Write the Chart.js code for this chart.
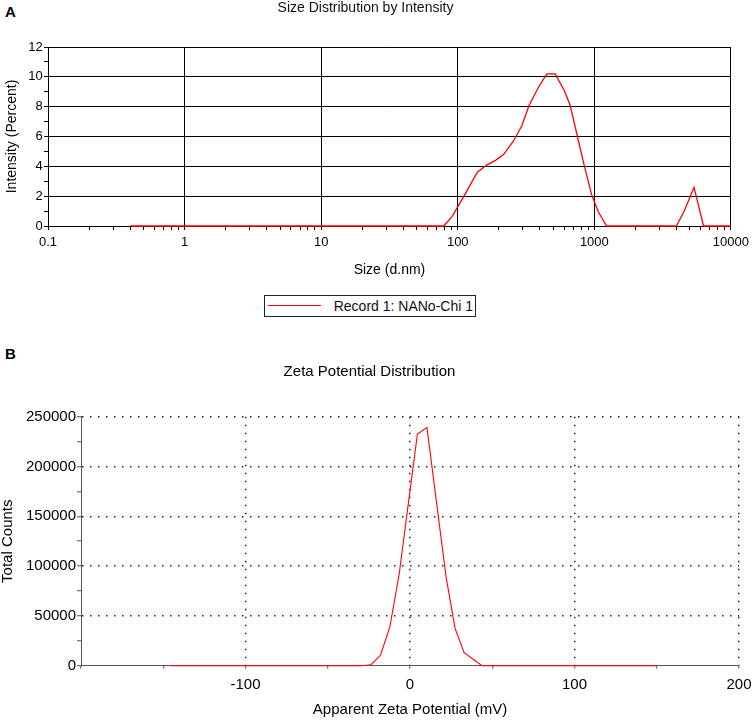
<!DOCTYPE html>
<html>
<head>
<meta charset="utf-8">
<title>Size and zeta potential distribution</title>
<script src="https://cdn.jsdelivr.net/npm/chart.js@4.4.1/dist/chart.umd.min.js"></script>
<style>
  body { margin: 0; background: #fff; font-family: 'Liberation Sans', Arial, sans-serif; }
  #wrap { position: relative; width: 753px; height: 720px; overflow: hidden; }
  canvas { position: absolute; left: 0; }
  #chartA { top: 0; }
  #chartB { top: 335px; }
  .panel { position: absolute; left: 5px; font-weight: bold; font-size: 15px; line-height: 15px; color: #000; }
  #legendA { position: absolute; left: 264px; top: 295px; width: 210px; height: 20px; border: 1px solid #222; }
  #legendA .swatch { position: absolute; left: 3px; top: 9px; width: 53px; border-top: 1.5px solid #ff0000; }
  #legendA .text { position: absolute; right: 2px; top: 1px; font-size: 14px; line-height: 18px; color: #111; }
</style>
</head>
<body>
<div id="wrap">
  <div class="panel" style="top: 4px;">A</div>
  <div class="panel" style="top: 346px;">B</div>
  <canvas id="chartA" width="753" height="290"></canvas>
  <div id="legendA"></div>
  <canvas id="chartB" width="753" height="385"></canvas>
</div>
<script>
// --- panel A: size distribution by intensity ---
const sizesA = [0.4, 79, 91, 111, 139, 164, 189, 217, 256, 294, 333, 390, 449, 516, 601, 665, 743, 841, 955, 1069, 1230, 3990, 4550, 5370, 6300, 10000];
const intensityA = [0, 0, 0.65, 2.0, 3.6, 4.1, 4.4, 4.8, 5.7, 6.7, 8.1, 9.3, 10.2, 10.2, 9.1, 8.1, 6.2, 4.1, 2.1, 0.95, 0, 0, 1.0, 2.6, 0, 0];
const decadesA = [0.1, 1, 10, 100, 1000, 10000];
const decadeLabelsA = ['0.1', '1', '10', '100', '1000', '10000'];
const minorStepsA = [2, 3, 4, 5, 6, 7, 8, 9];
const yTicksA = [0, 1, 2, 3, 4, 5, 6, 7, 8, 9, 10, 11, 12];
const yLabelsA = ['0', '', '2', '', '4', '', '6', '', '8', '', '10', '', '12'];

// --- panel B: zeta potential distribution ---
const zetaB = [-146, -29.4, -23.7, -17.9, -12.2, -6.5, -1.0, 4.5, 10.3, 16.2, 21.9, 27.4, 32.9, 43.8, 150];
const countsB = [0, 0, 1000, 10700, 39200, 92800, 163000, 232600, 239300, 163000, 89400, 37500, 13000, 0, 0];
const xTicksB = [-200, -150, -100, -50, 0, 50, 100, 150, 200];
const xLabelsB = ['', '', '-100', '', '0', '', '100', '', '200'];
const yTicksB = [0, 25000, 50000, 75000, 100000, 125000, 150000, 175000, 200000, 225000, 250000];
const yLabelsB = ['0', '', '50000', '', '100000', '', '150000', '', '200000', '', '250000'];

Chart.defaults.font.family = "'Liberation Sans', Arial, sans-serif";
Chart.defaults.color = '#000';

const clear = 'rgba(0,0,0,0)';

// every tick of the log axis: decades plus 2..9 in between
const xTicksA = [];
decadesA.forEach((d, i) => {
    xTicksA.push(d);
    if (i < decadesA.length - 1) minorStepsA.forEach(m => xTicksA.push(d * m));
});

const chartA = new Chart(document.getElementById('chartA'), {
    type: 'line',
    data: {
        datasets: [{
            label: 'Record 1: NANo-Chi 1',
            data: sizesA.map((x, i) => ({ x: x, y: intensityA[i] })),
            borderColor: '#ff0000',
            borderWidth: 1.3,
            pointRadius: 0,
            tension: 0,
            clip: 5
        }]
    },
    options: {
        responsive: false,
        animation: false,
        layout: { padding: { left: 0, right: 22, top: 0, bottom: 0 } },
        plugins: {
            legend: { display: false },
            tooltip: { enabled: false },
            title: {
                display: true,
                text: 'Size Distribution by Intensity',
                color: '#111',
                font: { size: 14, weight: 'normal' },
                padding: { top: 0, bottom: 30.2 }
            }
        },
        scales: {
            x: {
                type: 'logarithmic',
                min: 0.1,
                max: 10000,
                afterBuildTicks: s => { s.ticks = xTicksA.map(v => ({ value: v })); },
                afterFit: s => { s.height = 64; },
                grid: {
                    color: c => (c.tick && decadesA.includes(c.tick.value)) ? '#000' : clear,
                    tickColor: '#000',
                    tickLength: 4
                },
                border: { color: '#000' },
                ticks: {
                    autoSkip: false,
                    maxRotation: 0,
                    padding: 4,
                    font: { size: 13, lineHeight: 1.3 },
                    callback: v => {
                        const i = decadesA.indexOf(v);
                        return i >= 0 ? decadeLabelsA[i] : '';
                    }
                },
                title: {
                    display: true,
                    text: 'Size (d.nm)',
                    font: { size: 14 },
                    padding: { top: 0, bottom: 11.6 }
                }
            },
            y: {
                min: 0,
                max: 12,
                afterBuildTicks: s => { s.ticks = yTicksA.map(v => ({ value: v })); },
                afterFit: s => { s.width = 48; },
                grid: {
                    color: c => (c.tick && c.tick.value % 2 === 0) ? '#000' : clear,
                    tickColor: '#000',
                    tickLength: 4
                },
                border: { color: '#000' },
                ticks: {
                    autoSkip: false,
                    padding: 1.3,
                    font: { size: 13 },
                    callback: (v, i) => yLabelsA[i]
                },
                title: {
                    display: true,
                    text: 'Intensity (Percent)',
                    font: { size: 14 },
                    padding: { top: 3.6, bottom: 0 }
                }
            }
        }
    }
});

// boxed legend under panel A
const legendA = document.getElementById('legendA');
legendA.innerHTML = '<span class="swatch"></span><span class="text">' + chartA.data.datasets[0].label + '</span>';

new Chart(document.getElementById('chartB'), {
    type: 'line',
    data: {
        datasets: [{
            label: 'Total Counts',
            data: zetaB.map((x, i) => ({ x: x, y: countsB[i] })),
            borderColor: '#ff0000',
            borderWidth: 1.1,
            pointRadius: 0,
            tension: 0,
            clip: 5
        }]
    },
    options: {
        responsive: false,
        animation: false,
        layout: { padding: { left: 0, right: 14, top: 0, bottom: 0 } },
        plugins: {
            legend: { display: false },
            tooltip: { enabled: false },
            title: {
                display: true,
                text: 'Zeta Potential Distribution',
                color: '#000',
                font: { size: 15, weight: 'normal' },
                padding: { top: 27.7, bottom: 36 }
            }
        },
        scales: {
            x: {
                type: 'linear',
                min: -200,
                max: 200,
                afterBuildTicks: s => { s.ticks = xTicksB.map(v => ({ value: v })); },
                afterFit: s => { s.height = 54.3; },
                grid: {
                    color: c => (c.tick && c.tick.value % 100 === 0 && c.tick.value !== -200) ? '#222' : clear,
                    lineWidth: 1.5,
                    tickColor: '#555',
                    tickWidth: 1,
                    tickLength: 3
                },
                border: { color: '#555', dash: [1.5, 6.5] },
                ticks: {
                    autoSkip: false,
                    maxRotation: 0,
                    padding: 1.2,
                    font: { size: 15, lineHeight: 2 },
                    callback: (v, i) => xLabelsB[i]
                },
                title: {
                    display: true,
                    text: 'Apparent Zeta Potential (mV)',
                    font: { size: 15 },
                    padding: { top: 0, bottom: 1 }
                }
            },
            y: {
                min: 0,
                max: 250000,
                afterBuildTicks: s => { s.ticks = yTicksB.map(v => ({ value: v })); },
                afterFit: s => { s.width = 81; },
                grid: {
                    color: c => (c.tick && c.tick.value > 0 && c.tick.value % 50000 === 0) ? '#222' : clear,
                    lineWidth: 1.5,
                    tickColor: '#555',
                    tickWidth: 1,
                    tickLength: 4
                },
                border: { color: '#555', dash: [1.5, 6.5] },
                ticks: {
                    autoSkip: false,
                    padding: 1,
                    font: { size: 15 },
                    callback: (v, i) => yLabelsB[i]
                },
                title: {
                    display: true,
                    text: 'Total Counts',
                    font: { size: 15, lineHeight: 1 },
                    padding: { top: 0, bottom: 0 }
                }
            }
        }
    }
});
</script>
</body>
</html>
